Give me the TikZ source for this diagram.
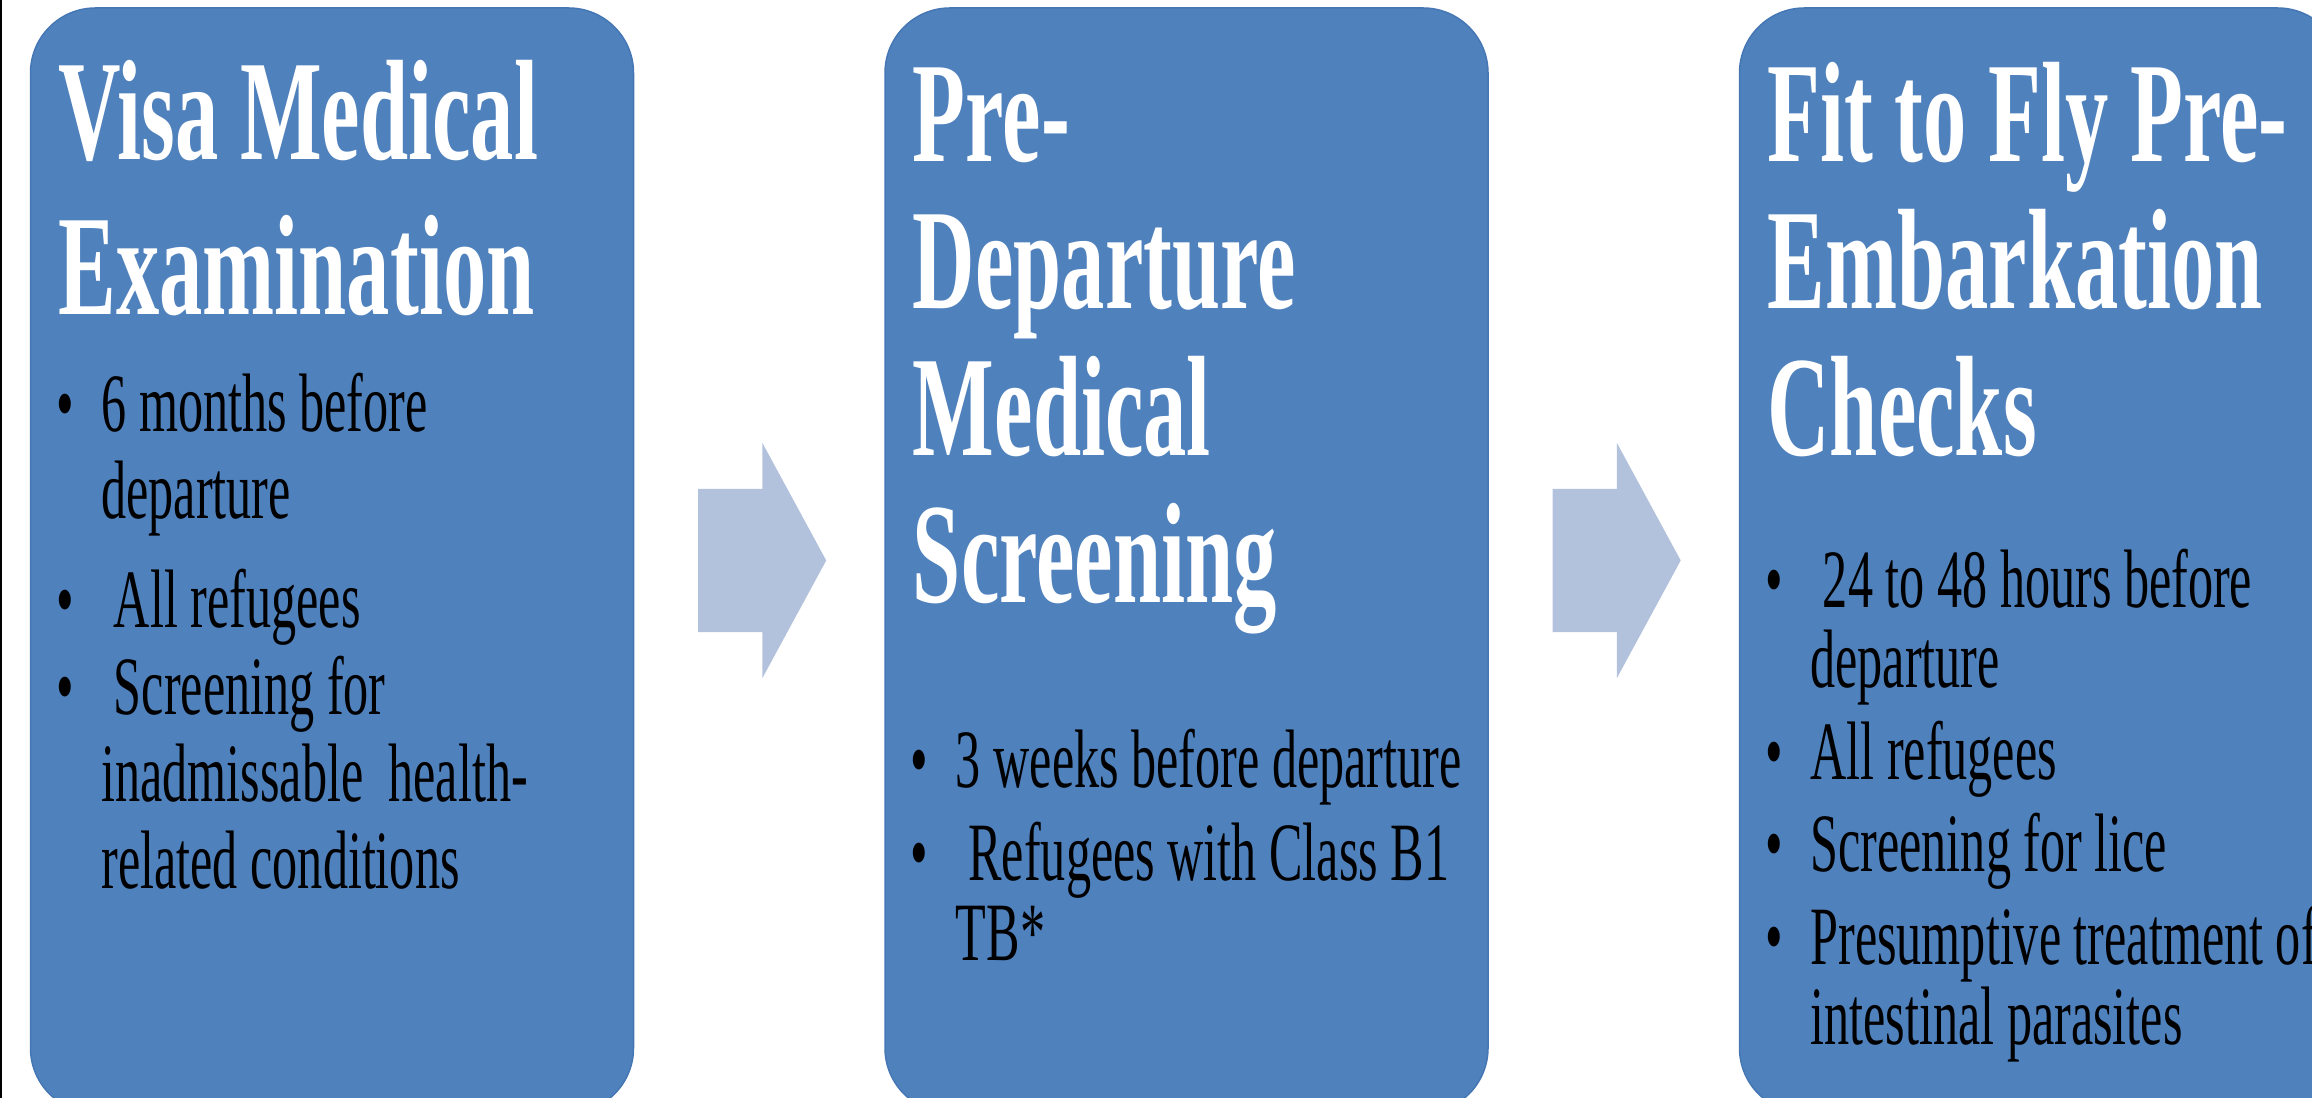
\documentclass[tikz,border=0pt]{standalone}
\usepackage{fontspec}
\setmainfont{Liberation Serif}
\newfontfamily\narrowserif[FakeStretch=0.605]{Liberation Serif}
\usetikzlibrary{positioning, shapes.arrows, calc}

\definecolor{stageblue}{HTML}{4F81BD}
\definecolor{stageedge}{HTML}{4677B5}
\definecolor{flowgrey}{RGB}{179,194,220}

% bullet and hanging indent for the point lists
\newcommand{\itembul}{\makebox[0.45cm][l]{\textbullet}}
\newcommand{\itemcont}{\hspace*{0.45cm}}

\begin{document}
\begin{tikzpicture}[
  stage/.style={draw=stageedge, fill=stageblue, line width=0.015cm, rounded corners=0.65cm,
                minimum width=6.03cm, minimum height=11.05cm, inner sep=0pt},
  % multi-line text sits on the baseline of its last line; #1 = line pitch
  heading/.style={anchor=base west, inner sep=0pt, align=left, text=white,
                  font=\narrowserif\bfseries\fontsize{40.7}{#1}\selectfont},
  heading/.default=41.8pt,
  points/.style={anchor=base west, inner sep=0pt, align=left, text=black,
                 font=\narrowserif\fontsize{23.6}{#1}\selectfont},
  points/.default=22.8pt,
  flow/.style={single arrow, fill=flowgrey, draw=none, inner xsep=0pt, inner ysep=0.71cm,
               minimum height=1.28cm,
               single arrow head extend=0.46cm, single arrow tip angle=123},
]

% === Canvas ===
\useasboundingbox (0,0) rectangle (23.12,-10.98);
\clip (0,0) rectangle (23.12,-10.98);
\draw[black, line width=0.02cm] (0.01,0) -- (0.01,-10.98);

% === Stage boxes ===
\node[stage] (b1) at (3.32,-5.605) {};
\node[stage, right=2.5cm of b1] (b2) {};
\node[stage, right=2.5cm of b2] (b3) {};

% === Flow arrows between the stages ===
\node[flow] (a12) at ($($(b1.east)!0.5!(b2.west)$)+(-0.165,0)$) {};
\node[flow] (a23) at ($($(b2.east)!0.5!(b3.west)$)+(-0.165,0)$) {};

% === Headings ===
\node[heading=44.1pt] (t1) at ($(b1.north west)+(0.28,-3.07)$) {Visa Medical\\Examination};
\node[heading] (t2) at ($(b2.north west)+(0.28,-5.95)$) {Pre-\\Departure\\Medical\\Screening};
\node[heading] (t3) at ($(b3.north west)+(0.28,-4.48)$) {Fit to Fly Pre-\\Embarkation\\Checks};

% === Point lists ===
\node[points=24.75pt] (p1) at ($(b1.north west)+(0.26,-8.81)$)
  {\itembul 6 months before\\
   \itemcont departure\\[0.22cm]
   \itembul\ All refugees\\
   \itembul\ Screening for\\
   \itemcont inadmissable\ \ health-\\
   \itemcont related conditions};

\node[points] (p2) at ($(b2.north west)+(0.26,-9.53)$)
  {\itembul 3 weeks before departure\\[0.12cm]
   \itembul\ Refugees with Class B1\\
   \itemcont TB*};

\node[points] (p3) at ($(b3.north west)+(0.26,-10.37)$)
  {\itembul\ 24 to 48 hours before\\
   \itemcont departure\\[0.12cm]
   \itembul All refugees\\[0.12cm]
   \itembul Screening for lice\\[0.12cm]
   \itembul Presumptive treatment of\\
   \itemcont intestinal parasites};

\end{tikzpicture}
\end{document}
